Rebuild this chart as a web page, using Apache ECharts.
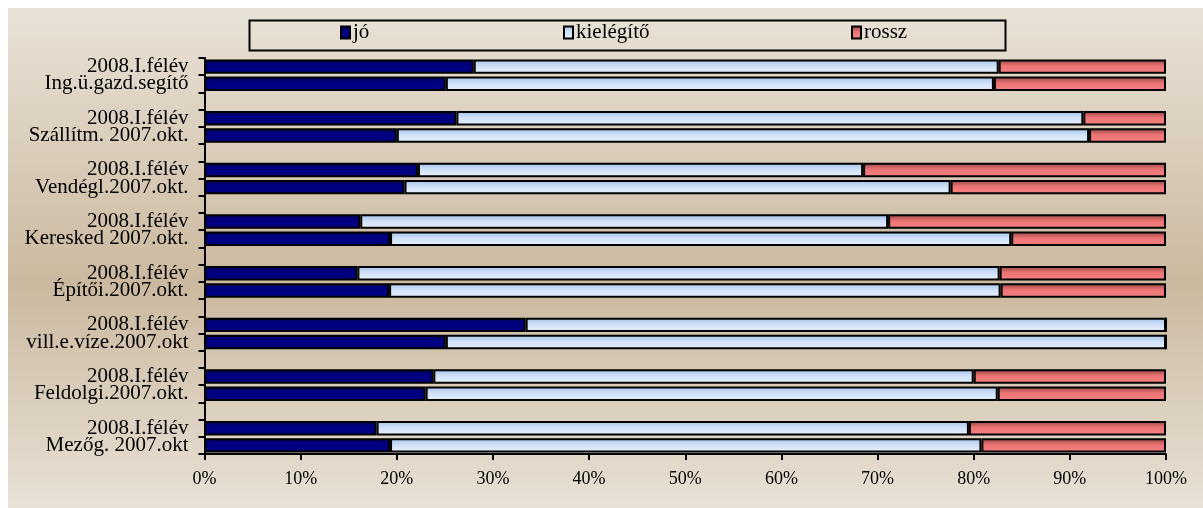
<!DOCTYPE html>
<html>
<head>
<meta charset="utf-8">
<script src="https://cdn.jsdelivr.net/npm/echarts@6/dist/echarts.min.js"></script>
<style>
html,body{margin:0;padding:0;background:#fff;}
#chart{width:1203px;height:508px;}
</style>
</head>
<body>
<div id="chart"></div>
<script>
var categories = ['2008.I.félév','Ing.ü.gazd.segítő','','2008.I.félév','Szállítm. 2007.okt.','','2008.I.félév','Vendégl.2007.okt.','','2008.I.félév','Keresked 2007.okt.','','2008.I.félév','Építői.2007.okt.','','2008.I.félév','vill.e.víze.2007.okt','','2008.I.félév','Feldolgi.2007.okt.','','2008.I.félév','Mezőg. 2007.okt'];
var seriesNames = ['jó','kielégítő','rossz'];
var jo = [28.0,25.1,null,26.2,20.0,null,22.2,20.8,null,16.2,19.3,null,15.9,19.2,null,33.4,25.1,null,23.8,23.0,null,17.9,19.3];
var kielegito = [54.6,57.0,null,65.2,72.0,null,46.3,56.8,null,54.9,64.6,null,66.8,63.6,null,66.6,74.9,null,56.2,59.5,null,61.6,61.5];
var rossz = [17.4,17.9,null,8.6,8.0,null,31.5,22.4,null,28.9,16.1,null,17.3,17.2,null,0,0,null,20.0,17.5,null,20.5,19.2];
var xTicks = {min:0, max:100, interval:10};

var FONT = '"Liberation Serif","Times New Roman",serif';
function vgrad(stops){
  return new echarts.graphic.LinearGradient(0,0,0,1,stops.map(function(s){return {offset:s[0],color:s[1]};}));
}
var colJo = vgrad([[0,'#000050'],[0.35,'#000080'],[1,'#000080']]);
var colKi = vgrad([[0,'#9fc0ec'],[0.45,'#cfe0f7'],[1,'#e8f1fc']]);
var colRo = vgrad([[0,'#8f4444'],[0.45,'#ec7373'],[1,'#f58282']]);

var chart = echarts.init(document.getElementById('chart'), null, {renderer:'canvas'});
function mkSeries(name, data, color){
  return {
    name:name, type:'bar', stack:'total', data:data, barWidth:'84%',
    itemStyle:{color:color, borderColor:'#000', borderWidth:2},
    emphasis:{disabled:true}
  };
}
function mkLegend(name, left){
  return {
    data:[{name:name, icon:'rect'}], left:left, top:22, padding:0,
    itemWidth:9, itemHeight:12, itemGap:0,
    textStyle:{fontFamily:FONT, fontSize:21, color:'#000', padding:[0,0,0,-2]},
    selectedMode:false
  };
}
chart.setOption({
  animation:false,
  backgroundColor:'#ffffff',
  graphic:[
    {type:'rect', left:8, top:8, z:-10, shape:{width:1195, height:500},
     style:{fill:vgrad([[0,'#e9e2d7'],[0.55,'#cbb99f'],[1,'#e8e1d6']])}},
    {type:'rect', left:247, top:18, z:10, shape:{width:756, height:30},
     style:{fill:null, stroke:'#000', lineWidth:2}}
  ],
  legend:[
    mkLegend(seriesNames[0], 340),
    mkLegend(seriesNames[1], 563),
    mkLegend(seriesNames[2], 851)
  ],
  grid:{left:204.5, right:37, top:58, bottom:54, containLabel:false},
  xAxis:{
    type:'value', min:xTicks.min, max:xTicks.max, interval:xTicks.interval,
    axisLine:{show:true, lineStyle:{color:'#000', width:2}},
    axisTick:{show:true, length:6, lineStyle:{color:'#000', width:2}},
    splitLine:{show:false},
    axisLabel:{formatter:'{value}%', fontFamily:FONT, fontSize:18, color:'#000', margin:16}
  },
  yAxis:{
    type:'category', inverse:true, data:categories,
    axisLine:{show:true, lineStyle:{color:'#000', width:2}},
    axisTick:{show:true, length:6, lineStyle:{color:'#000', width:2}},
    axisLabel:{fontFamily:FONT, fontSize:21, color:'#000', margin:16, interval:0},
    splitLine:{show:false}
  },
  series:[
    mkSeries(seriesNames[0], jo, colJo),
    mkSeries(seriesNames[1], kielegito, colKi),
    mkSeries(seriesNames[2], rossz, colRo)
  ]
});
</script>
</body>
</html>
